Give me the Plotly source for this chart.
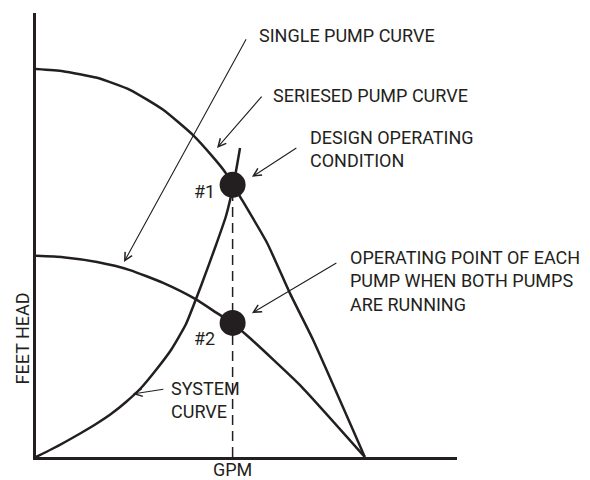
import plotly.graph_objects as go

# ---- data (GPM %, head %) read from the schematic ----
series_x = [0, 6.4, 14.5, 22.3, 30.2, 37.3, 42.0, 44.9, 46.8, 48.5, 54.9, 60.3, 65.8, 78.1]
series_y = [87.4, 86.9, 85.4, 82.7, 78.2, 72.5, 67.6, 64.2, 61.3, 58.6, 48.2, 36.9, 26.4, 0]

single_x = [0, 6.4, 14.5, 22.3, 30.2, 37.8, 43.0, 46.6, 50.8, 62.7, 78.1]
single_y = [45.3, 45.0, 43.9, 42.1, 39.2, 35.6, 32.4, 30.2, 26.8, 16.2, 0]

system_x = [0, 3.56, 7.13, 10.69, 14.25, 17.81, 21.38, 24.94, 28.50, 32.07,
            35.63, 39.19, 42.76, 45.13, 47.03, 48.46]
system_y = [0, 1.69, 3.49, 5.41, 7.43, 9.68, 12.39, 15.54, 19.59, 24.10,
            29.95, 38.51, 47.75, 54.28, 61.94, 69.59]

op_x = [46.7, 46.7]
op_y = [61.3, 30.2]
op_labels = ["#1", "#2"]

labels = [
    "SINGLE PUMP CURVE",
    "SERIESED PUMP CURVE",
    "DESIGN OPERATING<br>CONDITION",
    "OPERATING POINT OF EACH<br>PUMP WHEN BOTH PUMPS<br>ARE RUNNING",
    "SYSTEM<br>CURVE",
]
label_x = [52.4, 55.7, 64.5, 74.0, 31.6]
label_y = [94.9, 81.5, 69.4, 39.6, 12.8]

# arrows: tail -> head
arrow_tail_x = [50.1, 53.9, 62.2, 71.7, 30.6]
arrow_tail_y = [94.4, 81.5, 69.8, 43.9, 15.3]
arrow_head_x = [20.9, 43.0, 51.3, 51.3, 23.0]
arrow_head_y = [43.9, 69.6, 63.1, 32.4, 14.2]

x_title = "GPM"
y_title = "FEET HEAD"

INK = "#231f20"
FONT = "Roboto"
FS = 18

fig = go.Figure()

# dashed drop line from design point
fig.add_trace(go.Scatter(x=[op_x[0], op_x[0]], y=[0, op_y[0]], mode="lines",
                         line=dict(color=INK, width=1.5, dash="10px,6px"),
                         hoverinfo="skip", cliponaxis=False))

for xs, ys in [(series_x, series_y), (single_x, single_y), (system_x, system_y)]:
    fig.add_trace(go.Scatter(x=xs, y=ys, mode="lines",
                             line=dict(color=INK, width=2.5, shape="spline", smoothing=0.5),
                             hoverinfo="skip", cliponaxis=False))

fig.add_trace(go.Scatter(x=op_x, y=op_y, mode="markers",
                         marker=dict(color=INK, size=26),
                         hoverinfo="skip", cliponaxis=False))

annotations = []
for t, x, y in zip(labels, label_x, label_y):
    annotations.append(dict(x=x, y=y, xref="x", yref="y", text=t, showarrow=False,
                            xanchor="left", yanchor="middle", align="left",
                            font=dict(family=FONT, size=FS, color=INK)))
for t, x, y in zip(op_labels, [43.0, 43.0], [59.7, 26.8]):
    annotations.append(dict(x=x, y=y, xref="x", yref="y", text=t, showarrow=False,
                            xanchor="right", yanchor="middle",
                            font=dict(family=FONT, size=FS, color=INK)))
for tx, ty, hx, hy in zip(arrow_tail_x, arrow_tail_y, arrow_head_x, arrow_head_y):
    annotations.append(dict(x=hx, y=hy, ax=tx, ay=ty, xref="x", yref="y",
                            axref="x", ayref="y", text="", showarrow=True,
                            arrowhead=5, arrowsize=1.4, arrowwidth=1.1,
                            arrowcolor=INK, standoff=0, startstandoff=0))
# axis titles placed in paper coordinates (outside the axis ranges)
annotations.append(dict(x=0.4656, y=-0.029, xref="paper", yref="paper", text=x_title,
                        showarrow=False, xanchor="center", yanchor="middle",
                        font=dict(family=FONT, size=FS, color=INK)))
annotations.append(dict(x=-0.032, y=0.266, xref="paper", yref="paper", text=y_title,
                        showarrow=False, textangle=-90, xanchor="center", yanchor="middle",
                        font=dict(family=FONT, size=FS, color=INK)))

# page body has an 8px margin, so the figure is shrunk/shifted to compensate
fig.update_layout(
    width=582, height=472, autosize=False,
    margin=dict(l=28, r=133, t=5, b=23, pad=0),
    paper_bgcolor="white", plot_bgcolor="white",
    showlegend=False,
    annotations=annotations,
    xaxis=dict(range=[0, 100], showgrid=False, zeroline=False, showticklabels=False,
               ticks="", showline=True, linecolor=INK, linewidth=2.5, fixedrange=True),
    yaxis=dict(range=[0, 100], showgrid=False, zeroline=False, showticklabels=False,
               ticks="", showline=True, linecolor=INK, linewidth=2.5, fixedrange=True),
)

fig.write_html("out.html")
